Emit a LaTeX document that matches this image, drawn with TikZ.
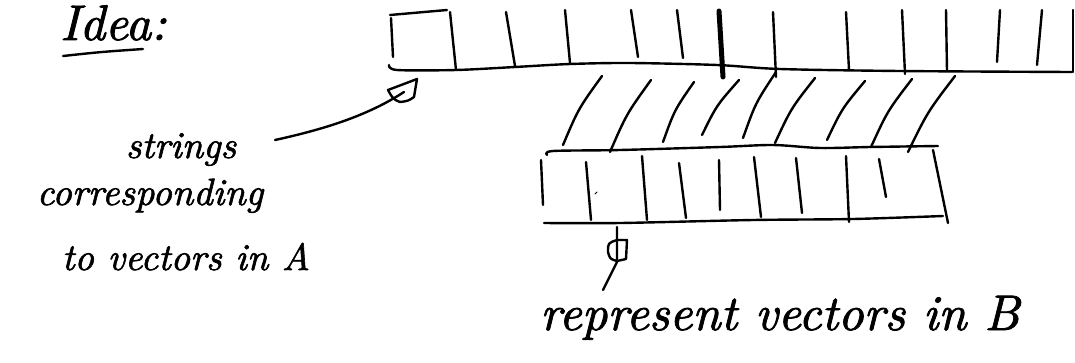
\documentclass[tikz,border=0pt]{standalone}
\usepackage{fontspec}
\usetikzlibrary{calc}
% a slightly heavier italic, closer to pen strokes
\newfontfamily\penfont{lmroman10-italic}[Extension=.otf, FakeBold=1.6]
\tikzset{
  ink/.style={line width=2.4pt, line cap=round, line join=round},
  heavyink/.style={line width=5pt, line cap=round},
  fineink/.style={line width=1pt, line cap=round},
  hand/.style={inner sep=0pt, anchor=base},
}
\begin{document}
\begin{tikzpicture}[x=1pt,y=-1pt]
\useasboundingbox (0,0) rectangle (1075,362);

% heading
\node[hand, anchor=base west, font=\fontsize{50}{56}\penfont] (idea) at (60,40) {Idea:};
\draw[ink] (63,56) .. controls (100,52) .. (143,49);

% array A: corner, left edge and bottom line
\draw[ink] (390,15) -- (447,10);
\draw[ink] (391,18) -- (393,57);
\draw[ink] plot[smooth] coordinates {(389,65) (397,70) (456,70) (515,67) (570,64) (630,63) (717,65) (780,69) (900,71) (1072,72)};
% cell separators of A
\foreach \xa/\ya/\xb/\yb in {450/12/456/70, 506/12/515/66, 565/10/570/63, 631/10/638/57, 677/10/683/58,
  773/12/776/77, 846/12/849/70, 902/10/905/74, 946/10/947/71, 1000/10/997/62, 1042/10/1037/65, 1073/10/1073/72}
  \draw[ink] (\xa,\ya) -- (\xb,\yb);
% the marked separator
\draw[heavyink] (719,11) -- (723,77);

% slanted strokes joining A to B
\foreach \xa/\ya/\xb/\yb in {602/76/563/145, 651/80/610/152, 694/82/663/142, 739/80/702/135, 776/72/743/138,
  815/78/775/143, 865/81/827/140, 912/79/871/147, 955/76/908/152}
  \draw[ink] (\xa,\ya) .. controls ($(\xa,\ya)!0.5!(\xb,\yb)+(-4,-2)$) .. (\xb,\yb);

% array B
\draw[ink] plot[smooth] coordinates {(547,155) (553,151) (620,150) (720,147) (773,145) (820,148) (870,147) (938,146)};
\draw[ink] plot[smooth] coordinates {(544,223) (620,223) (753,220) (853,219) (943,216)};
\draw[ink] (541,160) -- (543,205);
\draw[ink] (933,150) -- (948,223);
\foreach \xa/\ya/\xb/\yb in {586/162/591/220, 642/156/647/220, 679/163/686/218, 719/160/720/210,
  754/157/761/217, 796/158/802/213, 846/156/849/222, 879/159/886/197}
  \draw[ink] (\xa,\ya) -- (\xb,\yb);
\draw[fineink] (595,194) -- (597,192);

% left annotation
\node[hand, font=\fontsize{38}{44}\penfont] (strings) at (181,158) {strings};
\node[hand, font=\fontsize{38}{44}\penfont] (corr) at (150,205) {corresponding};
\node[hand, font=\fontsize{38}{44}\penfont] (tovec) at (186,270) {to vectors in A};

% pointer to A
\coordinate (ptail) at (275,140);
\coordinate (ptip) at (417,79);
\draw[ink] (ptail) .. controls (330,128) and (370,114) .. (404,92);
\draw[ink] (388,90) -- (ptip) .. controls (416,88) .. (414,97) .. controls (408,101) .. (400,102) .. controls (393,99) .. (388,90) -- cycle;

% bottom annotation
\node[hand, font=\fontsize{50}{56}\penfont, anchor=base west] (repr) at (540,330) {represent vectors in B};

% pointer to B
\coordinate (qtail) at (603,290);
\coordinate (qtip) at (617,227);
\draw[ink] (qtail) .. controls (612,272) .. (617,262) -- (qtip);
\draw[ink] (617,240) .. controls (608,243) .. (608,252) .. controls (610,259) .. (617,261) -- (626,259) -- (627,240) -- cycle;
\end{tikzpicture}
\end{document}
